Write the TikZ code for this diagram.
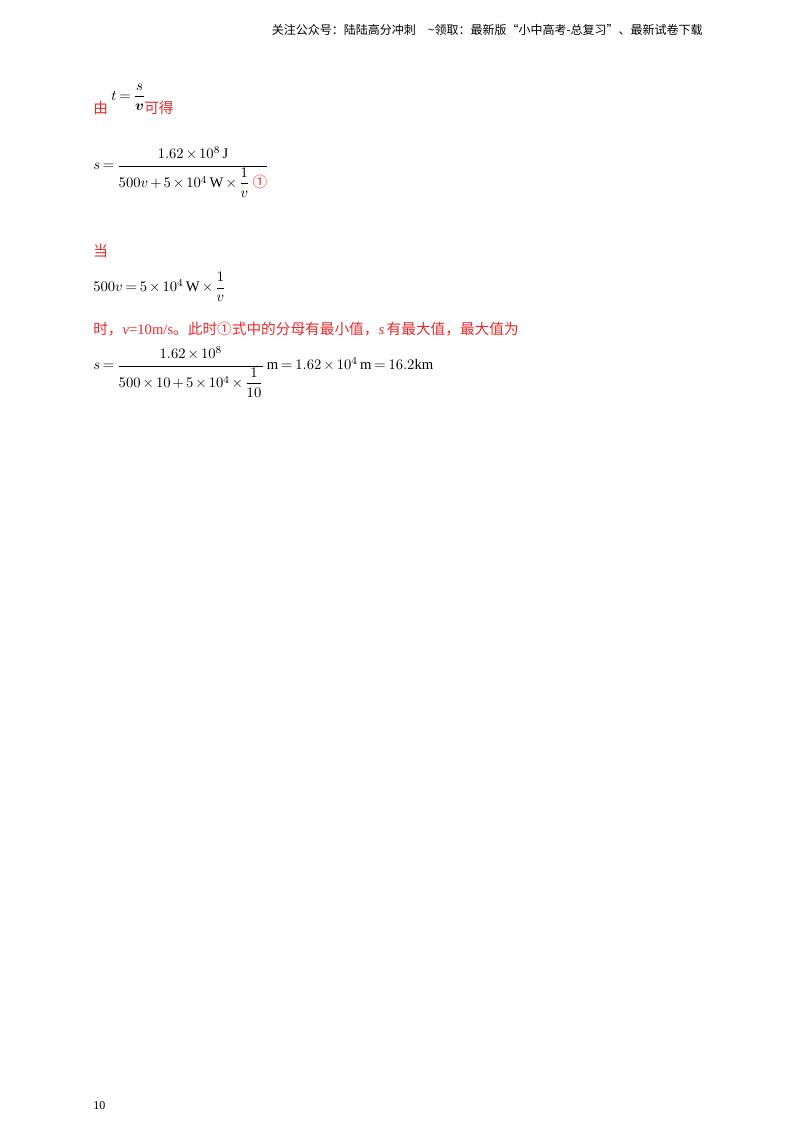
\documentclass[tikz,border=0pt]{standalone}
\usepackage{amsmath}
\usepackage{fontspec}
\setmainfont{Liberation Serif}
\newfontfamily\cjk{Noto Sans CJK SC}
\definecolor{myred}{RGB}{235,40,40}
\thickmuskip=3.5mu plus 2mu
\medmuskip=2.5mu plus 1mu
\tikzset{txt/.style={anchor=west,inner sep=0pt,font=\fontsize{11}{13}\selectfont},
red/.style={text=myred}}
\begin{document}
\begin{tikzpicture}[x=0.75pt,y=-0.75pt]
\useasboundingbox (0,0) rectangle (800,1132);
\node[anchor=east,inner sep=0pt,font=\cjk\fontsize{9}{11}\selectfont] (hdr) at (703,30) {关注公众号：陆陆高分冲刺\quad \textasciitilde 领取：最新版“小中高考-总复习”、最新试卷下载};
\node[txt,red] (you) at (93,108) {\cjk 由};
\node[txt] (eq1) at (111,97) {$t=\dfrac{s}{\boldsymbol{v}}$};
\node[txt,red] (kede) at (144,108) {\cjk 可得};
\node[txt] (eq2) at (93,172) {$s=\dfrac{1.62\times10^{8}\,\mathrm{J}\rule[-4pt]{0pt}{12pt}}{500v+5\times10^{4}\,\mathrm{W}\times\dfrac{1}{v}\;\textcolor{myred}{\text{\cjk ①}}}$};
\node[txt,red] (dang) at (93,251) {\cjk 当};
\node[txt] (eq3) at (93,287) {$500v=5\times10^{4}\,\mathrm{W}\times\dfrac{1}{v}$};
\node[txt,red] (line) at (93,329) {\cjk 时，{\rmfamily\itshape v}{\rmfamily =10m/s}。此时①式中的分母有最小值，{\rmfamily\itshape s}\,有最大值，最大值为};
\node[txt] (eq4) at (93,372) {$s=\dfrac{1.62\times10^{8}\rule[-4pt]{0pt}{12pt}}{500\times10+5\times10^{4}\times\dfrac{1}{10}}\,\mathrm{m}=1.62\times10^{4}\,\mathrm{m}=16.2\mathrm{km}$};
\node[txt,font=\fontsize{9}{11}\selectfont] (pg) at (93,1106) {10};
\end{tikzpicture}
\end{document}
